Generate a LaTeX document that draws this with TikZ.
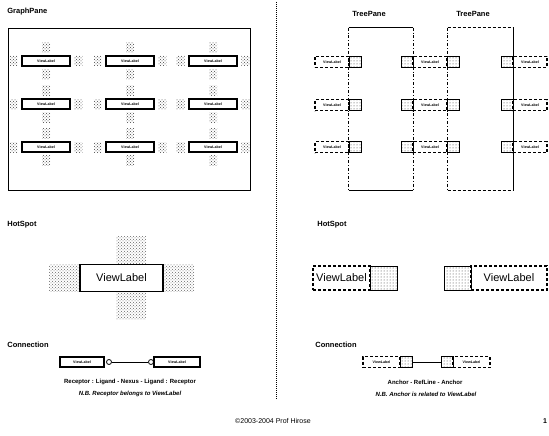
\documentclass[tikz,border=0pt]{standalone}
\usepackage{fontspec}
\setmainfont{Liberation Sans}
\usetikzlibrary{positioning,patterns}

\begin{document}
\begin{tikzpicture}[x=1pt,y=-1pt,thick,node distance=4pt,
    title node/.style={anchor=west,inner sep=0pt,font=\bfseries\fontsize{7.5}{8}\selectfont},
    view node/.style={draw,line width=1.1pt,inner sep=0pt,outer sep=0pt,minimum width=48pt,minimum height=10pt,font=\bfseries\fontsize{3.6}{4}\selectfont},
    tree view node/.style={view node,densely dashed,minimum width=34pt,minimum height=11pt},
    hot node/.style={inner sep=0pt,minimum width=8pt,minimum height=10pt,pattern=crosshatch dots,pattern color=black!75},
    anchor node/.style={draw,line width=1pt,inner sep=0pt,outer sep=0pt,minimum width=12pt,minimum height=11pt,pattern=dots,pattern color=black!80},
    big view node/.style={draw,line width=1.1pt,inner sep=0pt,outer sep=0pt,font=\fontsize{11}{12}\selectfont},
    big hot node/.style={inner sep=0pt,outer sep=0pt,minimum width=30pt,minimum height=27pt,pattern=crosshatch dots,pattern color=black!60},
    note node/.style={inner sep=0pt,font=\bfseries\fontsize{6}{7}\selectfont},
    pane line/.style={line width=0.8pt}]
  \useasboundingbox (0,0) rectangle (549,436);

  % GraphPane
  \node[title node] (gp title) at (7,12) {GraphPane};
  \node[draw,pane line,minimum width=242pt,minimum height=162pt] (gp) at (129,109) {};
  \foreach \c/\x in {1/46,2/130,3/213}
    \foreach \r/\y in {1/61,2/104,3/147} {
      \node[view node] (g\c\r) at (\x,\y) {ViewLabel};
      \node[hot node,left=of g\c\r] {};
      \node[hot node,right=of g\c\r] {};
      \node[hot node,above=3pt of g\c\r] {};
      \node[hot node,below=3pt of g\c\r] {};
    }

  % separator
  \draw[densely dotted,line width=1pt] (276,2) -- (276,400);

  % TreePanes
  \node[title node,anchor=center] (tp title1) at (369,14) {TreePane};
  \node[title node,anchor=center] (tp title2) at (473,14) {TreePane};
  \node[minimum width=64pt,minimum height=162pt,inner sep=0pt] (tp1) at (381,109) {};
  \node[minimum width=65pt,minimum height=162pt,inner sep=0pt] (tp2) at (480.5,109) {};
  \draw[pane line] (tp1.north west) -- (tp1.north east);
  \draw[pane line] (tp1.south west) -- (tp1.south east);
  \draw[pane line,dash dot] (tp1.north west) -- (tp1.south west);
  \draw[pane line,dash dot] (tp1.north east) -- (tp1.south east);
  \draw[pane line,densely dashed] (tp2.north west) -- (tp2.north east);
  \draw[pane line,densely dashed] (tp2.south west) -- (tp2.south east);
  \draw[pane line,dash dot] (tp2.north west) -- (tp2.south west);
  \draw[pane line] (tp2.north east) -- (tp2.south east);
  \foreach \r/\y in {1/62,2/105,3/147} {
    \node[anchor node] (a1\r) at (355,\y) {};
    \node[tree view node,left=0pt of a1\r] (t1\r) {ViewLabel};
    \node[anchor node] (a2\r) at (407,\y) {};
    \node[tree view node,right=0pt of a2\r] (t2\r) {ViewLabel};
    \node[anchor node,right=0pt of t2\r] (a3\r) {};
    \node[anchor node] (a4\r) at (507,\y) {};
    \node[tree view node,right=0pt of a4\r] (t3\r) {ViewLabel};
  }

  % HotSpot
  \node[title node] (hs title1) at (7,225) {HotSpot};
  \node[big view node,minimum width=83pt,minimum height=27pt] (hv) at (121.5,278) {ViewLabel};
  \node[big hot node] (hv top) at (131,250) {};
  \node[big hot node] (hv bottom) at (131,306) {};
  \node[big hot node,left=1pt of hv] (hv left) {};
  \node[big hot node,right=1pt of hv] (hv right) {};

  \node[title node] (hs title2) at (317,225) {HotSpot};
  \node[big view node,densely dashed,minimum width=57pt,minimum height=24pt] (hl) at (341.5,278) {ViewLabel};
  \node[anchor node,minimum width=27pt,minimum height=24pt,right=0pt of hl] (hl hot) {};
  \node[anchor node,minimum width=27pt,minimum height=24pt] (hr hot) at (457.5,278) {};
  \node[big view node,densely dashed,minimum width=76pt,minimum height=24pt,right=0pt of hr hot] (hr) {ViewLabel};

  % Connection
  \node[title node] (cn title1) at (7,345) {Connection};
  \node[view node,minimum width=44pt] (c1) at (82,362) {ViewLabel};
  \node[draw,circle,inner sep=0pt,minimum size=5pt] (lig1) at (109,362) {};
  \node[draw,circle,inner sep=0pt,minimum size=5pt] (lig2) at (151,362) {};
  \node[view node,minimum width=46pt] (c2) at (177,362) {ViewLabel};
  \draw[line width=1pt] (lig1) -- (lig2);
  \node[note node] (rc text) at (130,382) {Receptor : Ligand - Nexus - Ligand : Receptor};
  \node[note node,font=\bfseries\itshape\fontsize{6}{7}\selectfont] (rc note) at (130,394) {N.B. Receptor belongs to ViewLabel};

  \node[title node] (cn title2) at (315,345) {Connection};
  \node[tree view node,minimum width=37pt] (d1) at (381.5,362) {ViewLabel};
  \node[anchor node,right=0pt of d1] (d1 hot) {};
  \node[anchor node] (d2 hot) at (447,362) {};
  \node[tree view node,minimum width=37pt,right=0pt of d2 hot] (d2) {ViewLabel};
  \draw[line width=1pt] (d1 hot) -- (d2 hot);
  \node[note node] (an text) at (425,382) {Anchor - RefLine - Anchor};
  \node[note node,font=\bfseries\itshape\fontsize{6}{7}\selectfont] (an note) at (426,394) {N.B. Anchor is related to ViewLabel};

  % footer
  \node[inner sep=0pt,font=\fontsize{7}{8}\selectfont] (copy) at (273,421) {©2003-2004 Prof Hirose};
  \node[inner sep=0pt,font=\bfseries\fontsize{7}{8}\selectfont] (page) at (545,421) {1};
\end{tikzpicture}
\end{document}
